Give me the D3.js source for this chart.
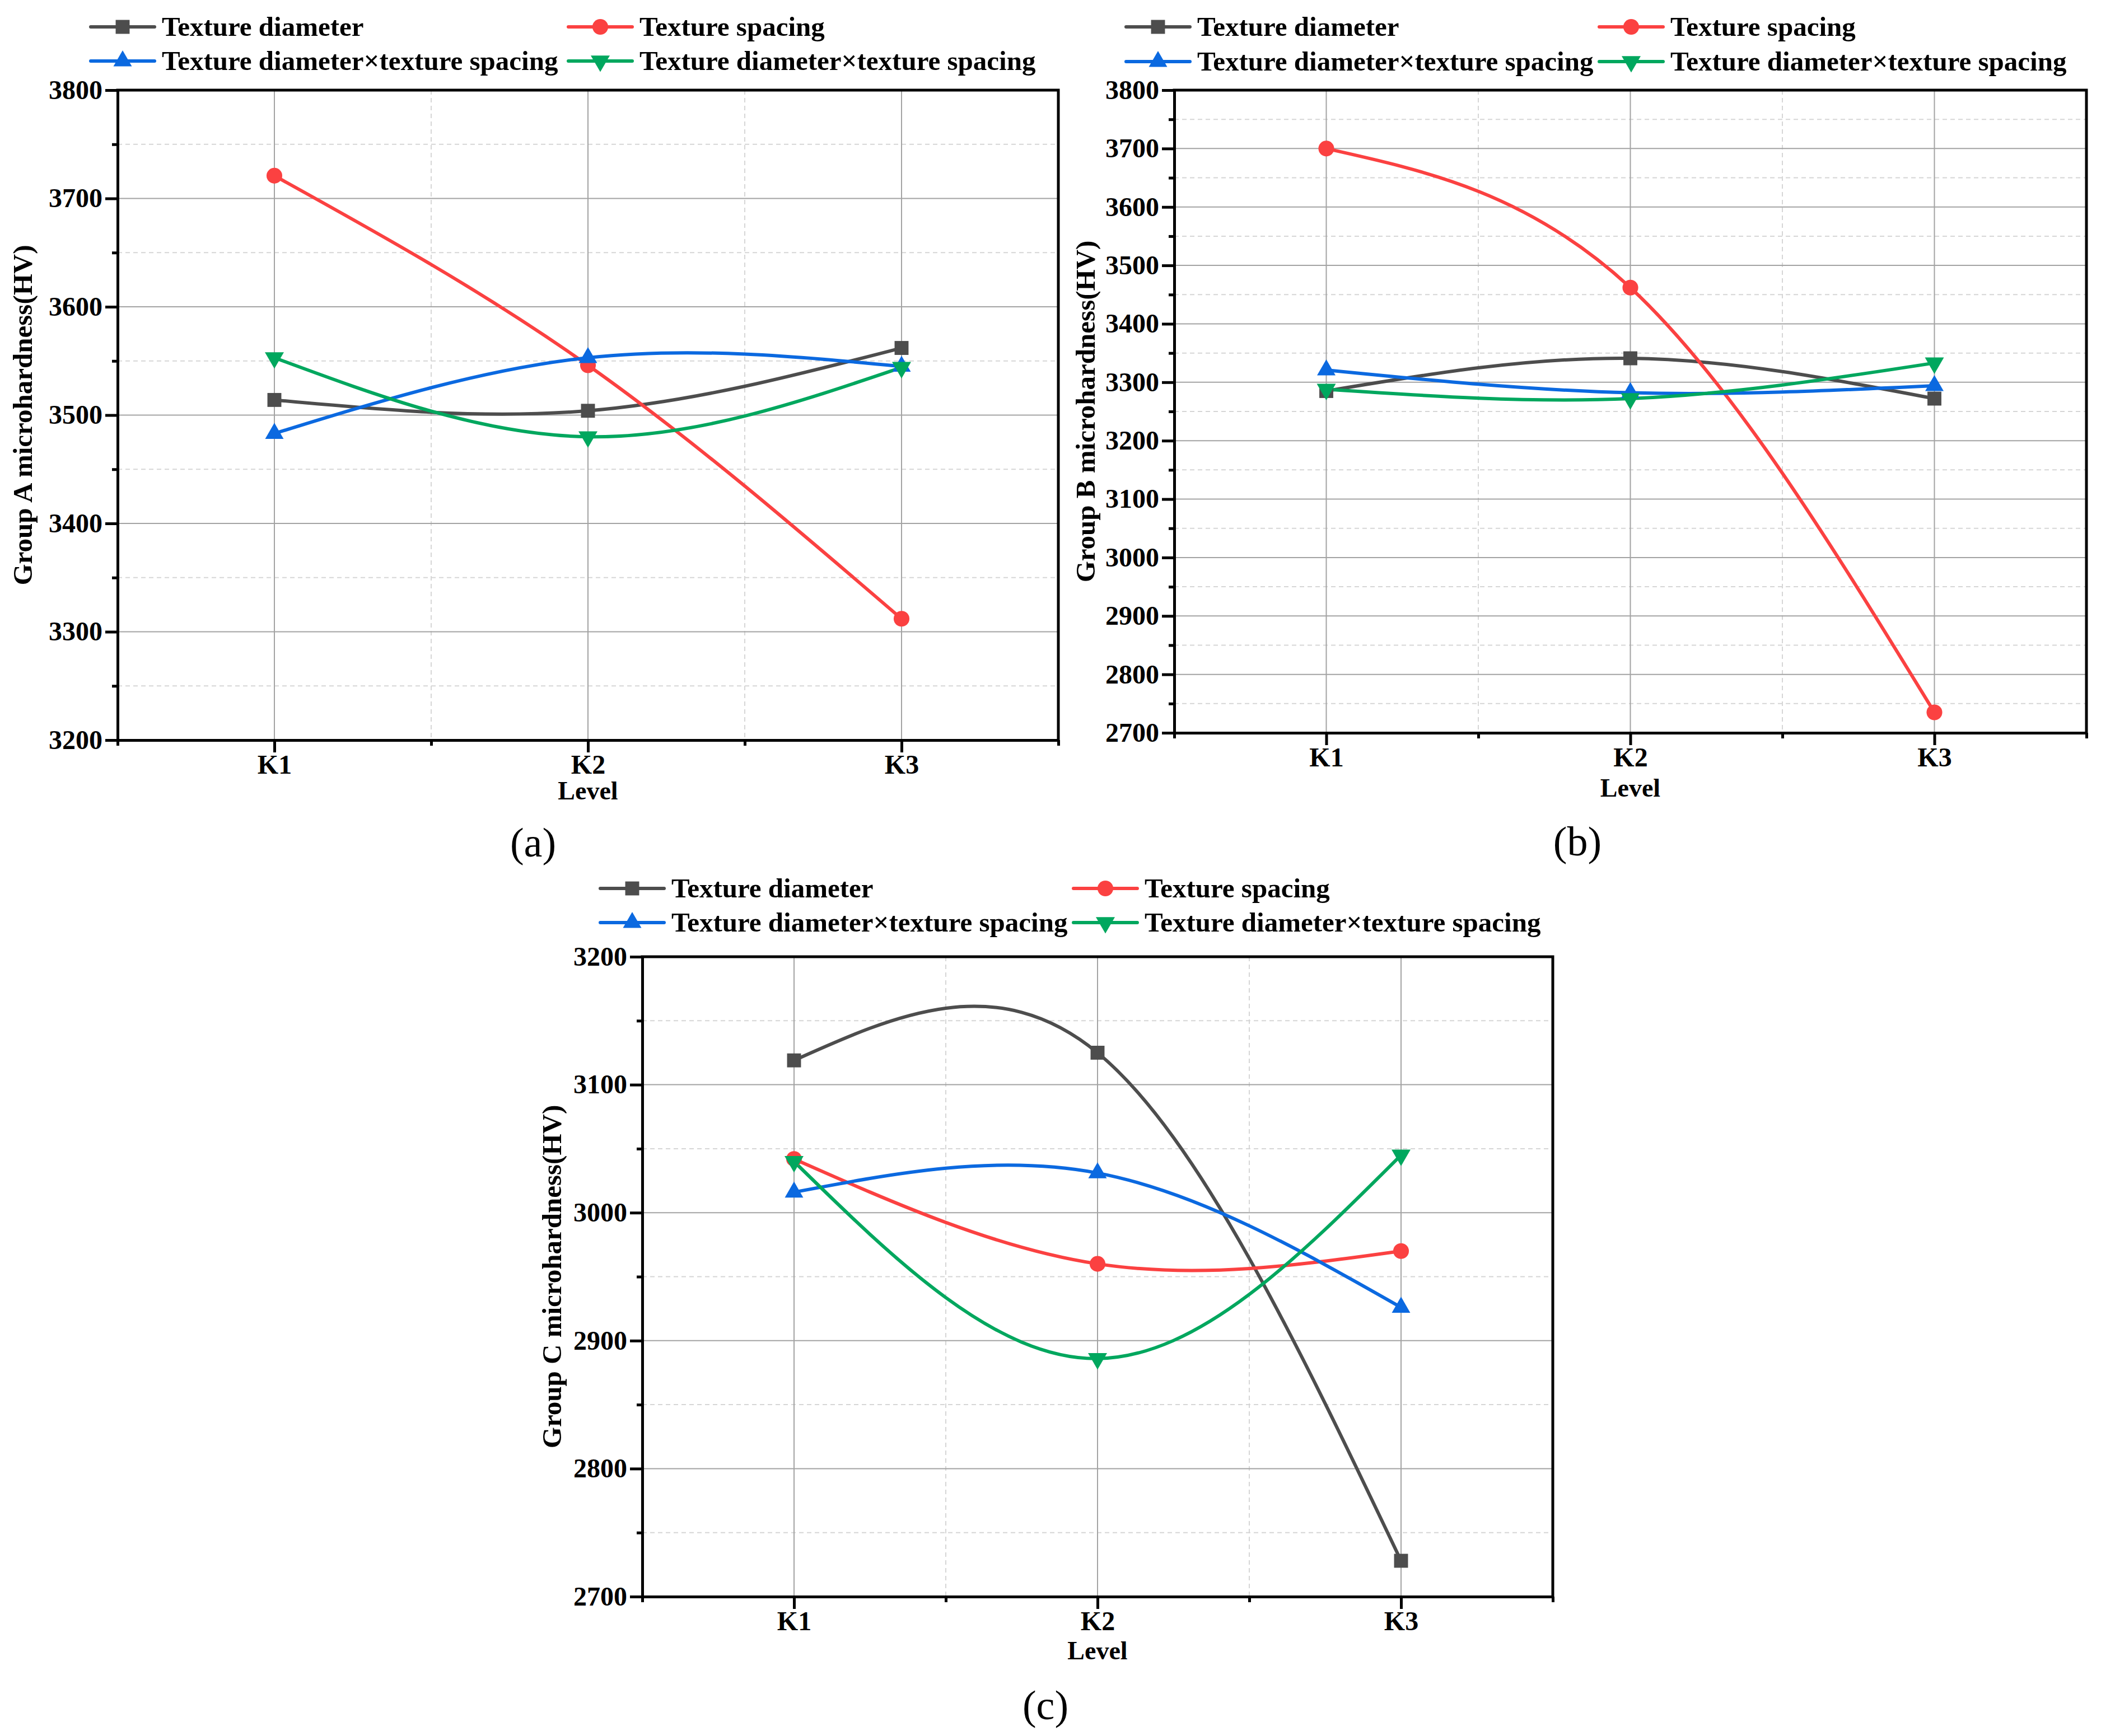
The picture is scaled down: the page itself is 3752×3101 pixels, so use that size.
<!DOCTYPE html>
<html>
<head>
<meta charset="utf-8">
<script src="https://cdn.jsdelivr.net/npm/d3@7"></script>
<style>
  body { margin: 0; background: #fff; }
  text { font-family: "Liberation Serif", "Times New Roman", serif; }
</style>
</head>
<body>
<div id="wrapper"></div>
<script>
// data
const levels = ["K1", "K2", "K3"]
const seriesNames = [
  "Texture diameter",
  "Texture spacing",
  "Texture diameter×texture spacing",
  "Texture diameter×texture spacing",
]

const groupADiameter = [3514, 3504, 3562]
const groupASpacing = [3721, 3546, 3312]
const groupAInteraction1 = [3483, 3553, 3545]
const groupAInteraction2 = [3553, 3480, 3544]

const groupBDiameter = [3285, 3341, 3272]
const groupBSpacing = [3700, 3462, 2735]
const groupBInteraction1 = [3321, 3282, 3294]
const groupBInteraction2 = [3288, 3272, 3333]

const groupCDiameter = [3119, 3125, 2728]
const groupCSpacing = [3042, 2960, 2970]
const groupCInteraction1 = [3016, 3031, 2926]
const groupCInteraction2 = [3040, 2886, 3045]

const groupATicks = [3200, 3300, 3400, 3500, 3600, 3700, 3800]
const groupBTicks = [2700, 2800, 2900, 3000, 3100, 3200, 3300, 3400, 3500, 3600, 3700, 3800]
const groupCTicks = [2700, 2800, 2900, 3000, 3100, 3200]

const yLabels = [
  "Group A microhardness(HV)",
  "Group B microhardness(HV)",
  "Group C microhardness(HV)",
]
const panelLabels = ["(a)", "(b)", "(c)"]
const xTitle = "Level"

// styles
const colors = ["#4d4d4d", "#fb4141", "#0b69e0", "#00a75e"]
const symbols = [d3.symbolSquare, d3.symbolCircle, d3.symbolTriangle, d3.symbolTriangle]
const symbolSizes = [620, 620, 470, 500]
const symbolRotate = [0, 0, 0, 180]

const width = 3752
const height = 3101

const svg = d3
  .select("#wrapper")
  .append("svg")
  .attr("width", width)
  .attr("height", height)
  .style("background", "#fff")

// layout for each panel
const panels = [
  {
    series: [groupADiameter, groupASpacing, groupAInteraction1, groupAInteraction2],
    ticks: groupATicks,
    yLabel: yLabels[0],
    tag: panelLabels[0],
    left: 210, right: 1890, top: 161, bottom: 1322,
    legendX: [162, 1015], legendY: [48, 109],
    yLabelX: 40, levelDy: 106,
    tagX: 952, tagY: 1530,
  },
  {
    series: [groupBDiameter, groupBSpacing, groupBInteraction1, groupBInteraction2],
    ticks: groupBTicks,
    yLabel: yLabels[1],
    tag: panelLabels[1],
    left: 2097, right: 3726, top: 161, bottom: 1309,
    legendX: [2011, 2856], legendY: [48, 110],
    yLabelX: 1938, levelDy: 114,
    tagX: 2817, tagY: 1528,
  },
  {
    series: [groupCDiameter, groupCSpacing, groupCInteraction1, groupCInteraction2],
    ticks: groupCTicks,
    yLabel: yLabels[2],
    tag: panelLabels[2],
    left: 1147, right: 2773, top: 1709, bottom: 2852,
    legendX: [1072, 1917], legendY: [1587, 1648],
    yLabelX: 985, levelDy: 112,
    tagX: 1867, tagY: 3071,
  },
]

const symbolPath = (i) => d3.symbol(symbols[i], symbolSizes[i])()

const drawPanel = (p) => {
  const g = svg.append("g")

  const xScale = d3
    .scalePoint()
    .domain(levels)
    .range([p.left, p.right])
    .padding(0.5)
  const step = xScale.step()

  const yScale = d3
    .scaleLinear()
    .domain(d3.extent(p.ticks))
    .range([p.bottom, p.top])

  const minorY = p.ticks.slice(0, -1).map((t, i) => (t + p.ticks[i + 1]) / 2)
  const minorX = [xScale(levels[0]) - step / 2, ...levels.map((l) => xScale(l) + step / 2)]

  // grid
  const grid = g.append("g")
  grid
    .selectAll(".minor-h")
    .data(minorY)
    .join("line")
    .attr("x1", p.left)
    .attr("x2", p.right)
    .attr("y1", (d) => yScale(d))
    .attr("y2", (d) => yScale(d))
    .attr("stroke", "#d6d6d6")
    .attr("stroke-width", 2)
    .attr("stroke-dasharray", "8,6")
  grid
    .selectAll(".minor-v")
    .data(minorX.slice(1, -1))
    .join("line")
    .attr("x1", (d) => d)
    .attr("x2", (d) => d)
    .attr("y1", p.top)
    .attr("y2", p.bottom)
    .attr("stroke", "#d6d6d6")
    .attr("stroke-width", 2)
    .attr("stroke-dasharray", "8,6")
  grid
    .selectAll(".major-h")
    .data(p.ticks.slice(1, -1))
    .join("line")
    .attr("x1", p.left)
    .attr("x2", p.right)
    .attr("y1", (d) => yScale(d))
    .attr("y2", (d) => yScale(d))
    .attr("stroke", "#a3a3a3")
    .attr("stroke-width", 2)
  grid
    .selectAll(".major-v")
    .data(levels)
    .join("line")
    .attr("x1", (d) => xScale(d))
    .attr("x2", (d) => xScale(d))
    .attr("y1", p.top)
    .attr("y2", p.bottom)
    .attr("stroke", "#a3a3a3")
    .attr("stroke-width", 2)

  // data lines
  const lineGenerator = d3
    .line()
    .x((d, i) => xScale(levels[i]))
    .y((d) => yScale(d))
    .curve(d3.curveNatural)

  p.series.forEach((values, i) => {
    g.append("path")
      .attr("d", lineGenerator(values))
      .attr("fill", "none")
      .attr("stroke", colors[i])
      .attr("stroke-width", 6)
  })
  p.series.forEach((values, i) => {
    g.append("g")
      .selectAll("path")
      .data(values)
      .join("path")
      .attr("d", symbolPath(i))
      .attr("transform", (d, j) =>
        `translate(${xScale(levels[j])},${yScale(d)}) rotate(${symbolRotate[i]})`)
      .attr("fill", colors[i])
  })

  // axes
  const styleAxis = (sel) => {
    sel.select(".domain").attr("stroke-width", 5).attr("stroke", "#000")
    sel.selectAll(".tick line").attr("stroke-width", 5).attr("stroke", "#000")
    sel
      .selectAll("text")
      .attr("font-size", 48)
      .attr("font-weight", "bold")
      .attr("fill", "#000")
  }

  g.append("g")
    .attr("transform", `translate(${p.left},0)`)
    .call(d3.axisLeft(yScale).tickValues(minorY).tickSize(10).tickFormat("").tickSizeOuter(0))
    .call(styleAxis)
  g.append("g")
    .attr("transform", `translate(${p.left},0)`)
    .call(
      d3.axisLeft(yScale)
        .tickValues(p.ticks)
        .tickFormat(d3.format("d"))
        .tickSize(22)
        .tickPadding(5)
        .tickSizeOuter(0)
    )
    .call(styleAxis)
    .call((s) => s.select(".domain").remove())

  const minorXScale = d3.scaleIdentity().domain([p.left, p.right]).range([p.left, p.right])
  g.append("g")
    .attr("transform", `translate(0,${p.bottom})`)
    .call(d3.axisBottom(minorXScale).tickValues(minorX).tickSize(10).tickFormat("").tickSizeOuter(0))
    .call(styleAxis)
  g.append("g")
    .attr("transform", `translate(0,${p.bottom})`)
    .call(d3.axisBottom(xScale).tickSize(22).tickPadding(4).tickSizeOuter(0))
    .call(styleAxis)
    .call((s) => s.select(".domain").remove())

  // top and right frame
  g.append("path")
    .attr("d", `M${p.left},${p.top}H${p.right}V${p.bottom}`)
    .attr("fill", "none")
    .attr("stroke", "#000")
    .attr("stroke-width", 5)
    .attr("stroke-linecap", "square")

  // titles
  g.append("text")
    .attr("x", (p.left + p.right) / 2)
    .attr("y", p.bottom + p.levelDy)
    .attr("text-anchor", "middle")
    .attr("font-size", 46)
    .attr("font-weight", "bold")
    .text(xTitle)

  g.append("text")
    .attr("transform", `translate(${p.yLabelX},${(p.top + p.bottom) / 2}) rotate(-90)`)
    .attr("text-anchor", "middle")
    .attr("dominant-baseline", "central")
    .attr("font-size", 49)
    .attr("font-weight", "bold")
    .text(p.yLabel)

  g.append("text")
    .attr("x", p.tagX)
    .attr("y", p.tagY)
    .attr("text-anchor", "middle")
    .attr("font-size", 74)
    .text(p.tag)

  // legend
  seriesNames.forEach((name, i) => {
    const lx = p.legendX[i % 2]
    const ly = p.legendY[Math.floor(i / 2)]
    g.append("line")
      .attr("x1", lx)
      .attr("x2", lx + 114)
      .attr("y1", ly)
      .attr("y2", ly)
      .attr("stroke", colors[i])
      .attr("stroke-width", 6)
      .attr("stroke-linecap", "round")
    g.append("path")
      .attr("d", symbolPath(i))
      .attr("transform", `translate(${lx + 57},${ly}) rotate(${symbolRotate[i]})`)
      .attr("fill", colors[i])
    g.append("text")
      .attr("x", lx + 127)
      .attr("y", ly + 16)
      .attr("font-size", 49)
      .attr("font-weight", "bold")
      .text(name)
  })
}

panels.forEach(drawPanel)
</script>
</body>
</html>
